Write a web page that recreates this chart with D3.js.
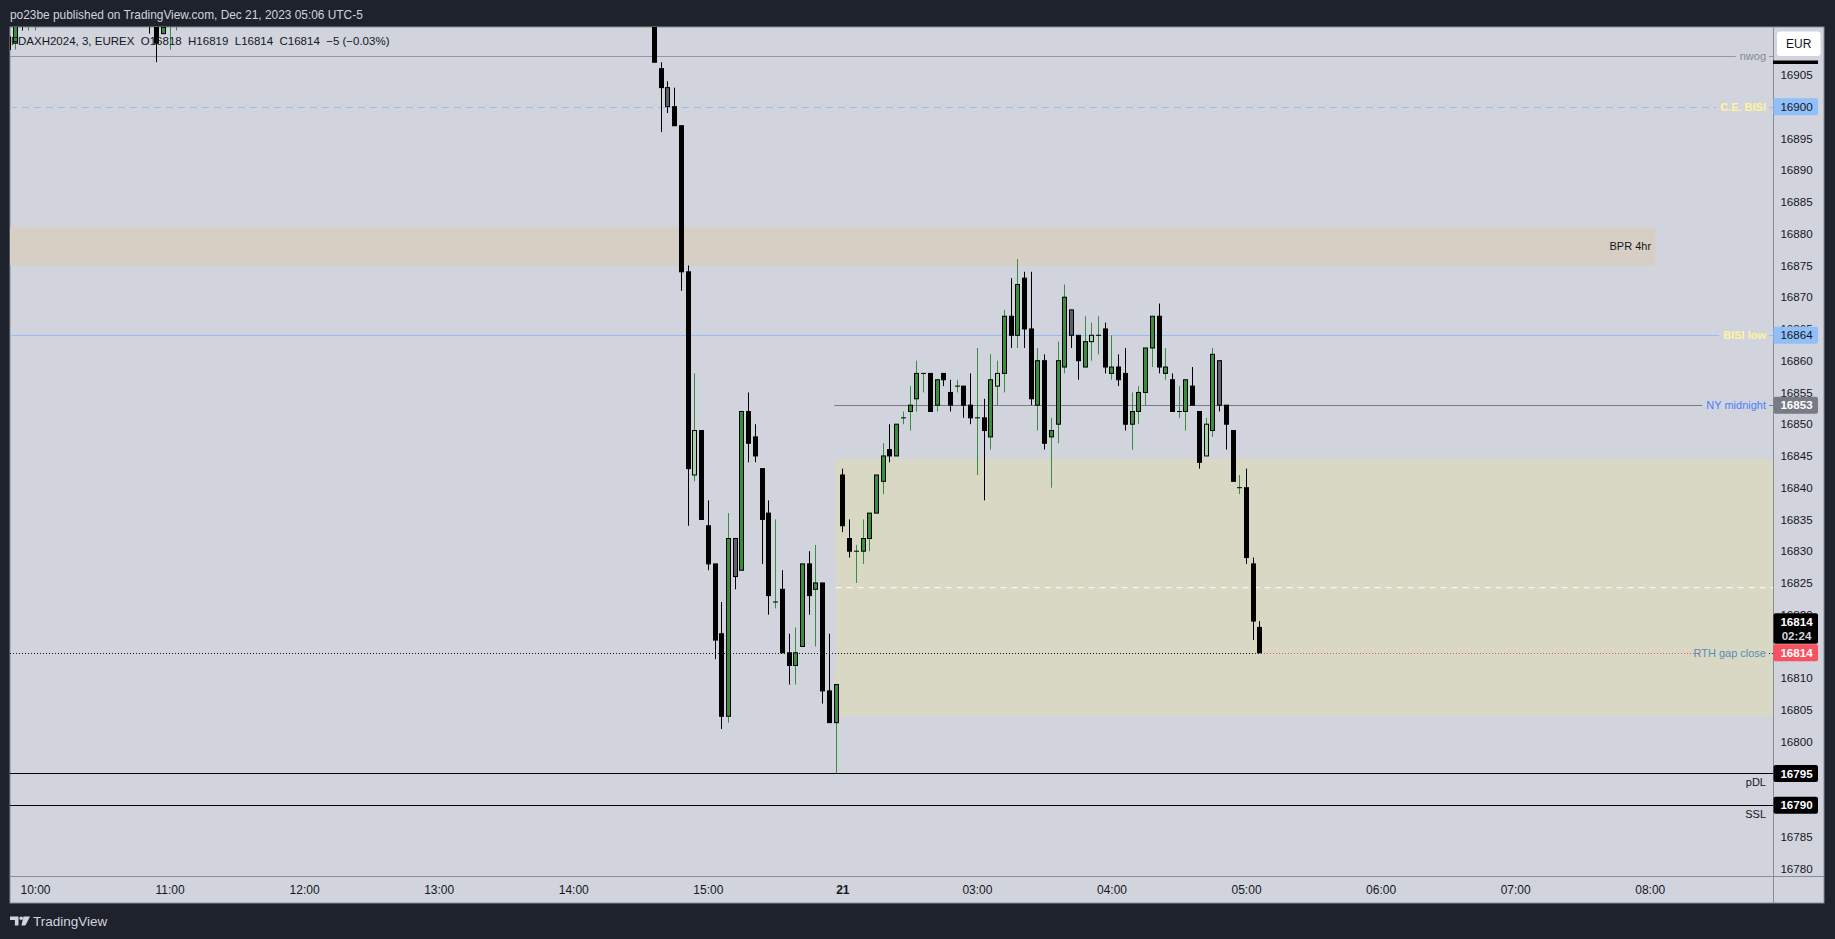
<!DOCTYPE html>
<html><head><meta charset="utf-8">
<script src="https://cdn.jsdelivr.net/npm/d3@7/dist/d3.min.js"></script>
<style>
html,body{margin:0;padding:0;background:#1e222d;overflow:hidden;}
svg{display:block;font-family:"Liberation Sans",Arial,sans-serif;}
</style>
</head><body>
<svg id="chart" width="1835" height="939"></svg>
<script>
// ---------------- DATA ----------------
// bar index: 0 = 10:00 (Dec 20), 20 bars (3 min) per hour; 120 = Dec 21 02:00 session open
const barIndex = [-4,-3,-2,-1,0,17,18,19,20,21,
  92,93,94,95,96,97,98,99,100,101,102,103,104,105,106,107,108,109,110,111,112,113,114,115,116,117,118,119,
  120,121,122,123,124,125,126,127,128,129,130,131,132,133,134,135,136,137,138,139,140,141,142,143,144,145,
  146,147,148,149,150,151,152,153,154,155,156,157,158,159,160,161,162,163,164,165,166,167,168,169,170,171,
  172,173,174,175,176,177,178,179,180,181,182];
const opens = [16911,16910,16916,16914,16914.5,16918,16916,16911.5,16913,16913.5,
  16918,16906,16903,16900,16897,16874,16842,16849,16834,16828,16817,16804,16832,16827,16852,16848,16843,16836,16822,16824,16814,16812,16815,16828,16824,16825,16808,16803,
  16842,16832,16830,16830,16832,16836,16841,16846,16845,16851,16852,16854,16858,16858,16853,16858,16855,16856,16856,16853,16851,16851,16848,16856,16858,16867,
  16864,16873,16865,16853,16860,16848,16850,16859,16868,16864,16859,16863,16864,16865,16858,16859,16858,16850,16852,16855,16862,16867,16858,16857,16852,16852,
  16856,16852,16845,16849,16860,16853,16849,16840,16840,16828,16818];
const highs = [16911.5,16916,16918,16918,16919,16920,16918,16913,16918,16918,
  16920,16907,16904,16903,16897,16875,16858,16849,16838,16828,16822,16836,16832,16852,16855,16850,16843,16838,16835,16827,16817,16818,16828,16830,16831,16825,16817,16809,
  16843,16835,16831,16835,16836,16842,16847,16850,16850,16852,16856,16860,16858,16858,16857,16858,16857,16857,16856,16858,16862,16854,16861,16860,16868,16873,
  16876,16874,16874,16862,16861,16851,16863,16872,16868,16864,16867,16866,16867,16866,16864,16861,16862,16855,16856,16862,16867,16869,16862,16858,16856,16857,
  16859,16852,16851,16862,16860,16853,16849,16842,16843,16829,16819];
const lows = [16908.5,16909,16912,16912,16912,16911.5,16907,16911.5,16909,16912,
  16907,16896,16899,16897,16871,16834,16841,16835,16827,16813,16802,16803,16824,16827,16844,16844,16828,16820,16821,16814,16809,16809,16815,16820,16815,16806,16803,16795,
  16833,16829,16825,16828,16830,16836,16839,16844,16845,16850,16849,16852,16855,16852,16852,16856,16852,16855,16851,16850,16842,16838,16846,16853,16855,16862,
  16862,16862,16853,16849,16846,16840,16847,16858,16862,16857,16859,16860,16861,16858,16857,16856,16849,16846,16850,16853,16859,16858,16857,16852,16851,16849,
  16853,16843,16845,16848,16852,16846,16841,16839,16828,16816,16814];
const closes = [16909,16915,16913.5,16916,16917,16914,16910,16912.5,16916,16916,
  16907,16903,16900,16897,16874,16843,16849,16835,16828,16816,16804,16832,16826,16852,16847,16845,16835,16823,16822,16814,16812,16814,16828,16823,16825,16808,16803,16809,
  16834,16830,16830,16832,16836,16842,16845,16845,16850,16851,16853,16858,16858,16852,16857,16857,16853,16856,16853,16851,16851,16849,16857,16858,16867,16864,
  16872,16865,16854,16860,16847,16849,16860,16870,16864,16860,16863,16864,16864,16859,16859,16857,16850,16852,16855,16862,16867,16859,16859,16852,16852,16857,
  16853,16844,16850,16861,16853,16850,16841,16840,16829,16819,16814];
// candle colouring: u = green, d = black, l = light green, g = grey
const barKinds = ("duduudduuu" +
  "ddgddd" + "ldddd" + "ugu" + "dddd" + "u" + "dd" + "uu" + "d" + "u" + "dd" + "u" +
  "dduuuuuduu" + "uuududdudd" + "udulududdu" + "duuugdulud" + "udduuuudud" + "uuddlugddu" + "ddd").split("");

const timeTicks  = [0,20,40,60,80,100,120,140,160,180,200,220,240];
const timeLabels = ["10:00","11:00","12:00","13:00","14:00","15:00","21","03:00","04:00","05:00","06:00","07:00","08:00"];
const priceTicks = [16780,16785,16800,16805,16810,16820,16825,16830,16835,16840,16845,16850,16855,16860,16865,16870,16875,16880,16885,16890,16895,16905];

// horizontal levels
const levelNames  = ["nwog","C.E. BISI","BISI low","NY midnight","RTH gap close","pDL","SSL"];
const levelPrices = [16908, 16900, 16864, 16853, 16814, 16795, 16790];
const levelStart  = [-10, -10, -10, 118.8, -10, -10, -10];

// zones
const zoneNames = ["BPR 4hr","RTH gap"];
const zoneTop   = [16881, 16844.5];
const zoneBot   = [16875, 16804];
const zoneFrom  = [-10, 119];
const zoneTo    = [240.8, 300];

const lastPrice = 16814, lastTimer = "02:24";

// ---------------- LAYOUT ----------------
const L = 10, R = 1773, T = 27, B = 876, AXR = 1824, AXB = 903;
const svg = d3.select("#chart");
const x = d3.scaleLinear().domain([0, 240]).range([35, 35 + 240 * 6.728]);
const y = d3.scaleLinear().domain([16778.85, 16912.55]).range([B, T]);

svg.append("rect").attr("width",1835).attr("height",939).attr("fill","#1e222d");
svg.append("text").attr("x",10).attr("y",15).attr("dy","0.35em")
  .attr("fill","#d1d4dc").attr("font-size",11.9)
  .text("po23be published on TradingView.com, Dec 21, 2023 05:06 UTC-5");

// panel
svg.append("rect").attr("x",L).attr("y",T).attr("width",AXR-L).attr("height",AXB-T)
  .attr("fill","#d1d4dc").attr("stroke","#8a8d96").attr("stroke-width",1);

svg.append("defs").append("clipPath").attr("id","plotclip")
  .append("rect").attr("x",L).attr("y",T).attr("width",R-L).attr("height",B-T);
const plot = svg.append("g").attr("clip-path","url(#plotclip)");

// zones
const zoneFill = ["#d8cfc4","#d9d8c4"];
zoneNames.forEach((n,i)=>{
  plot.append("rect")
    .attr("x", Math.max(L, x(zoneFrom[i]))).attr("y", y(zoneTop[i]))
    .attr("width", Math.min(R, x(zoneTo[i])) - Math.max(L, x(zoneFrom[i])))
    .attr("height", y(zoneBot[i]) - y(zoneTop[i]))
    .attr("fill", zoneFill[i]);
});
// midline of RTH gap
plot.append("line").attr("x1",x(zoneFrom[1])).attr("x2",R)
  .attr("y1",y((zoneTop[1]+zoneBot[1])/2)).attr("y2",y((zoneTop[1]+zoneBot[1])/2))
  .attr("stroke","#ffffff").attr("stroke-dasharray","6,5");
plot.append("text").attr("x", x(zoneTo[0]) - 4).attr("y", y((zoneTop[0]+zoneBot[0])/2)).attr("dy","0.35em")
  .attr("text-anchor","end").attr("font-size",11).attr("fill","#131722").text(zoneNames[0]);

// levels
const lvlStroke = ["#9598a1","#90bff9","#90bff9","#787b86","#131722","#000000","#000000"];
const lvlDash   = [null,"7,5",null,null,"1,2",null,null];
const lvlText   = ["#868993","#fff59d","#fff59d","#4c7dfe","#5b8bb3","#131722","#131722"];
const lvlBold   = [false,true,true,false,false,false,false];
const lvlBelow  = [false,false,false,false,false,true,true];
levelNames.forEach((n,i)=>{
  const yy = Math.round(y(levelPrices[i])) + 0.5;
  const t = plot.append("text").attr("x",1766).attr("text-anchor","end")
    .attr("y", lvlBelow[i] ? yy + 9 : yy).attr("dy","0.35em")
    .attr("font-size",11).attr("font-weight", lvlBold[i] ? "bold" : "normal")
    .attr("fill", lvlText[i]).text(n);
  const w = t.node().getComputedTextLength();
  const segs = lvlBelow[i] ? [[x(levelStart[i]), R]] : [[x(levelStart[i]), 1766 - w - 4],[1769, R]];
  segs.forEach(s=>{
    plot.insert("line","text").attr("x1",Math.max(L,s[0])).attr("x2",s[1]).attr("y1",yy).attr("y2",yy)
      .attr("stroke",lvlStroke[i]).attr("stroke-width",1)
      .attr("stroke-dasharray",lvlDash[i]);
  });
});
// current-price line
const lastX = x(barIndex[barIndex.length-1]);
plot.append("line").attr("x1",lastX).attr("x2",1766 - 65).attr("y1",Math.round(y(lastPrice))+0.5).attr("y2",Math.round(y(lastPrice))+0.5)
  .attr("stroke","#f7525f").attr("stroke-dasharray","1,2").attr("stroke-dashoffset",1.5);

// info line
svg.append("text").attr("x",11).attr("y",41).attr("dy","0.35em")
  .attr("font-size",11.5).attr("fill","#131722")
  .style("white-space","pre")
  .text("FDAXH2024, 3, EUREX  O16818  H16819  L16814  C16814  \u22125 (\u22120.03%)");

// candles
const bars = barIndex.map((b,i)=>({b, o:opens[i], h:highs[i], l:lows[i], c:closes[i], k:barKinds[i]}));
const fillOf = {u:"#388e3c", d:"#000000", l:"#a5d6a7", g:"#5d606b"};
const wickOf = {u:"#388e3c", d:"#000000", l:"#388e3c", g:"#000000"};
const cg = plot.append("g");
cg.selectAll("line.w").data(bars).join("line").attr("class","w")
  .attr("x1",d=>Math.round(x(d.b))+0.5).attr("x2",d=>Math.round(x(d.b))+0.5)
  .attr("y1",d=>y(d.h)).attr("y2",d=>y(d.l)).attr("stroke",d=>wickOf[d.k]).attr("stroke-width",1);
cg.selectAll("rect.b").data(bars).join("rect").attr("class","b")
  .attr("x",d=>Math.round(x(d.b))-1.5).attr("width",4)
  .attr("y",d=>Math.min(y(d.o),y(d.c)))
  .attr("height",d=>Math.max(0.01, Math.abs(y(d.o)-y(d.c))))
  .attr("fill",d=>fillOf[d.k]).attr("stroke","#000").attr("stroke-width",1);

// axes separators
svg.append("line").attr("x1",L).attr("x2",AXR).attr("y1",B+0.5).attr("y2",B+0.5).attr("stroke","#8a8d96");
svg.append("line").attr("x1",R+0.5).attr("x2",R+0.5).attr("y1",T).attr("y2",AXB).attr("stroke","#8a8d96");

// time axis
const xa = svg.append("g").attr("transform",`translate(0,${B})`)
  .call(d3.axisBottom(x).tickValues(timeTicks).tickFormat((d,i)=>timeLabels[i]).tickSize(0).tickPadding(9));
xa.select(".domain").remove();
xa.selectAll("text").attr("font-size",12).attr("fill","#131722").attr("font-family","Liberation Sans, Arial, sans-serif")
  .attr("font-weight",(d,i)=>timeLabels[i]==="21"?"bold":"normal");

// price axis
const ya = svg.append("g").attr("transform",`translate(${R},0)`)
  .call(d3.axisRight(y).tickValues(priceTicks).tickFormat(d3.format("d")).tickSize(0));
ya.select(".domain").remove();
ya.selectAll("text").attr("x",23.5).attr("text-anchor","middle").attr("font-size",11.6)
  .attr("fill","#131722").attr("font-family","Liberation Sans, Arial, sans-serif");

// EUR button + tag above
svg.append("rect").attr("x",1777).attr("y",31.5).attr("width",43.5).attr("height",24.5).attr("rx",3).attr("fill","#ffffff");
svg.append("text").attr("x",1798.7).attr("y",44).attr("dy","0.35em").attr("text-anchor","middle")
  .attr("font-size",12).attr("fill","#131722").text("EUR");
svg.append("rect").attr("x",R).attr("y",60.5).attr("width",45).attr("height",3.5).attr("fill","#000");

// price tags
function tag(price, bg, fg, bold, label){
  const yy = y(price);
  svg.append("rect").attr("x",R+0.5).attr("y",yy-8.5).attr("width",44.5).attr("height",17).attr("rx",2).attr("fill",bg);
  svg.append("text").attr("x",1796.5).attr("y",yy).attr("dy","0.36em").attr("text-anchor","middle")
    .attr("font-size",11.6).attr("font-weight",bold?"bold":"normal").attr("fill",fg).text(label);
}
tag(levelPrices[1], "#90bff9", "#131722", false, d3.format("d")(levelPrices[1]));
tag(levelPrices[2], "#90bff9", "#131722", false, d3.format("d")(levelPrices[2]));
tag(levelPrices[3], "#787b86", "#ffffff", true, d3.format("d")(levelPrices[3]));
tag(levelPrices[5], "#000000", "#ffffff", true, d3.format("d")(levelPrices[5]));
tag(levelPrices[6], "#000000", "#ffffff", true, d3.format("d")(levelPrices[6]));
// last price with countdown
const ly = y(lastPrice);
svg.append("rect").attr("x",R+0.5).attr("y",ly-39.5).attr("width",44.5).attr("height",30.5).attr("rx",2).attr("fill","#000");
svg.append("text").attr("x",1796.5).attr("y",ly-31).attr("dy","0.36em").attr("text-anchor","middle")
  .attr("font-size",11.6).attr("font-weight","bold").attr("fill","#fff").text(d3.format("d")(lastPrice));
svg.append("text").attr("x",1796.5).attr("y",ly-17).attr("dy","0.36em").attr("text-anchor","middle")
  .attr("font-size",11.6).attr("font-weight","bold").attr("fill","#d1d4dc").text(lastTimer);
tag(lastPrice, "#f7525f", "#ffffff", true, d3.format("d")(lastPrice));

// footer logo
const lg = svg.append("g").attr("fill","#d1d4dc");
lg.append("path").attr("d","M10 916.5h8.5v9h-3.6v-5.6H10z");
lg.append("circle").attr("cx",21.2).attr("cy",918.3).attr("r",1.8);
lg.append("path").attr("d","M23.5 916.5h6.5l-4.6 9h-4z");
svg.append("text").attr("x",33).attr("y",921).attr("dy","0.35em").attr("font-size",13.5)
  .attr("fill","#d1d4dc").text("TradingView");
</script>
</body></html>
